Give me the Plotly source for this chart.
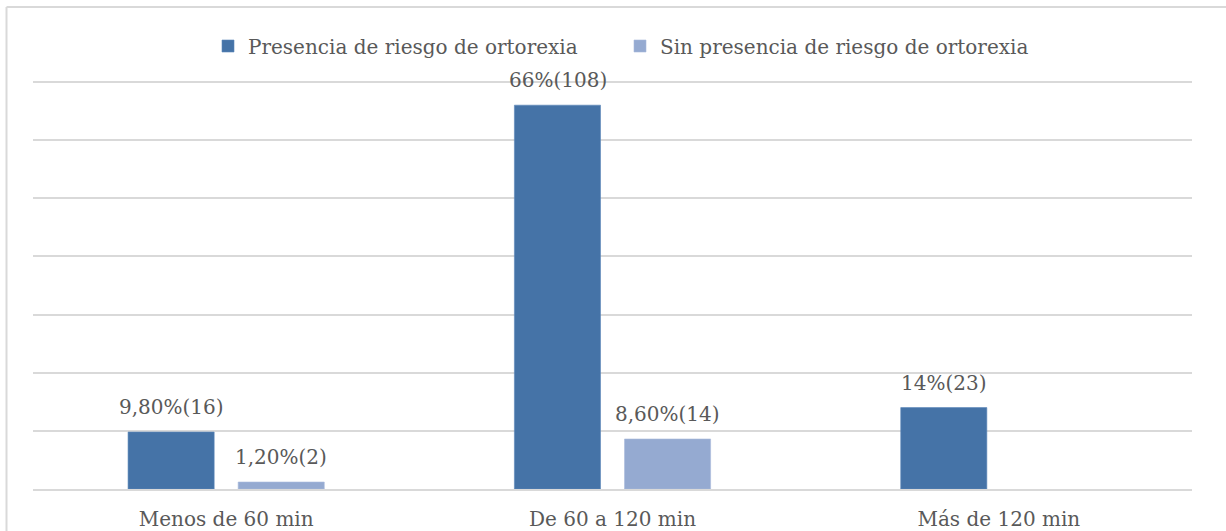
import plotly.graph_objects as go

# Tiempo dedicado y presencia de riesgo de ortorexia
categorias = ["Menos de 60 min", "De 60 a 120 min", "Más de 120 min"]
serie_nombres = ["Presencia de riesgo de ortorexia", "Sin presencia de riesgo de ortorexia"]
con_riesgo = [9.8, 66.0, 14.0]
sin_riesgo = [1.2, 8.6, None]
etiquetas_con = ["9,80%(16)", "66%(108)", "14%(23)"]
etiquetas_sin = ["1,20%(2)", "8,60%(14)", ""]

W, H = 1226, 531
L, R, T, B = 33, 34, 79, 42
FONT = "DejaVu Serif"
FS = 20
GRIS = "#595959"
LINEA = "#D9D9D9"
AZUL = "#4573A7"
AZUL_CLARO = "#95AAD1"

fig = go.Figure()
fig.add_trace(go.Bar(x=categorias, y=con_riesgo, name=serie_nombres[0],
                     marker=dict(color=AZUL, line=dict(color="#5B86B8", width=0.6))))
fig.add_trace(go.Bar(x=categorias, y=sin_riesgo, name=serie_nombres[1],
                     marker=dict(color=AZUL_CLARO, line=dict(color="#A9BADB", width=0.6))))

# etiquetas de datos sobre cada barra
desplaz = 55
for i, c in enumerate(categorias):
    if con_riesgo[i] is not None:
        fig.add_annotation(x=c, y=con_riesgo[i], text=etiquetas_con[i], showarrow=False,
                           xshift=-desplaz, yshift=25, font=dict(family=FONT, size=FS, color=GRIS))
    if sin_riesgo[i] is not None and etiquetas_sin[i]:
        fig.add_annotation(x=c, y=sin_riesgo[i], text=etiquetas_sin[i], showarrow=False,
                           xshift=desplaz, yshift=25, font=dict(family=FONT, size=FS, color=GRIS))

pw, ph = W - L - R, H - T - B
def px_x(v):
    return (v - L) / pw
def px_y(v):
    return (H - B - v) / ph

# marco del gráfico
fig.add_shape(type="line", xref="paper", yref="paper",
              x0=px_x(6.5), x1=px_x(1226), y0=px_y(7), y1=px_y(7),
              line=dict(color=LINEA, width=2))
fig.add_shape(type="line", xref="paper", yref="paper",
              x0=px_x(6.5), x1=px_x(6.5), y0=px_y(7), y1=px_y(531),
              line=dict(color=LINEA, width=2))

fig.update_layout(
    width=W, height=H,
    margin=dict(l=L, r=R, t=T, b=B, autoexpand=False),
    paper_bgcolor="white", plot_bgcolor="white",
    barmode="group", bargap=0.43, bargroupgap=0.218,
    font=dict(family=FONT, color=GRIS, size=FS),
    showlegend=True,
    legend=dict(orientation="h", xref="container", yref="container",
                x=620 / W, xanchor="center", y=1 - 46 / H, yanchor="middle",
                font=dict(family=FONT, size=FS, color=GRIS), itemwidth=30,
                entrywidth=367, bgcolor="rgba(0,0,0,0)"),
)
fig.update_xaxes(showline=True, linecolor=LINEA, linewidth=1.5, ticks="",
                 tickfont=dict(family=FONT, size=FS, color=GRIS), ticklabelstandoff=11,
                 showgrid=False, automargin=False)
fig.update_yaxes(range=[0, 70.5], dtick=10, showticklabels=False, showgrid=True,
                 gridcolor=LINEA, gridwidth=1.5, zeroline=False, automargin=False)

fig.write_html("out.html")
